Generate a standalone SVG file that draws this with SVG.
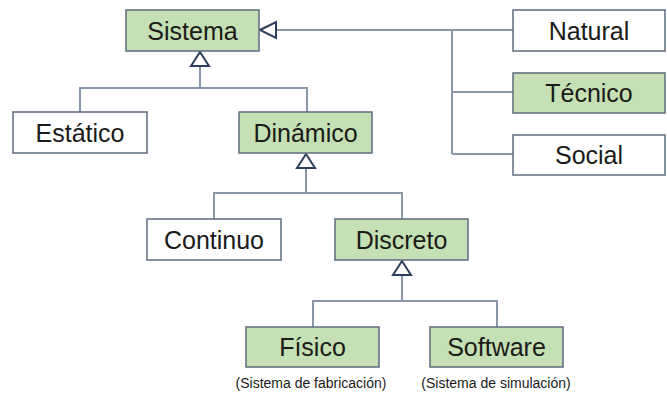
<svg xmlns="http://www.w3.org/2000/svg" width="667" height="397" viewBox="0 0 667 397">
  <style>
    .box rect { stroke: #5d6b7d; stroke-width: 1.5; }
    .green rect { fill: #c5e0b4; }
    .plain rect { fill: #ffffff; }
    .box text { font-family: "Liberation Sans", Arial, sans-serif; font-size: 25px; fill: #1a1a1a; text-anchor: middle; }
    .caption { font-family: "Liberation Sans", Arial, sans-serif; font-size: 14px; fill: #1a1a1a; text-anchor: middle; }
    .links line, .links polyline { stroke: #8a97a8; stroke-width: 2; fill: none; }
    .links polygon { fill: #ffffff; stroke: #2e3d5a; stroke-width: 2; stroke-linejoin: miter; }
  </style>
  <rect width="667" height="397" fill="#ffffff"/>

  <g class="links" id="connectors">
    <!-- Sistema <- Natural / Técnico / Social -->
    <line x1="276" y1="30" x2="513" y2="30"/>
    <line x1="452" y1="30" x2="452" y2="154"/>
    <line x1="452" y1="92" x2="513" y2="92"/>
    <line x1="452" y1="154" x2="513" y2="154"/>
    <polygon points="260,30 276,22 276,38"/>
    <!-- Sistema <- Estático / Dinámico -->
    <line x1="200" y1="66" x2="200" y2="88"/>
    <polyline points="80,112 80,88 307,88 307,112"/>
    <polygon points="200,52 191,66 209,66"/>
    <!-- Dinámico <- Continuo / Discreto -->
    <line x1="306" y1="168" x2="306" y2="193"/>
    <polyline points="214,219 214,193 402,193 402,219"/>
    <polygon points="306,154 297,168 315,168"/>
    <!-- Discreto <- Físico / Software -->
    <line x1="402" y1="275" x2="402" y2="301"/>
    <polyline points="313,327 313,301 497,301 497,327"/>
    <polygon points="402,261 393,275 411,275"/>
  </g>

  <g id="sistema" class="box green">
    <rect x="126" y="10" width="133" height="41"/>
    <text x="192.5" y="39.5">Sistema</text>
  </g>
  <g id="natural" class="box plain">
    <rect x="513" y="10" width="152" height="41"/>
    <text x="589" y="39.5">Natural</text>
  </g>
  <g id="tecnico" class="box green">
    <rect x="513" y="73" width="152" height="40"/>
    <text x="589" y="102">Técnico</text>
  </g>
  <g id="social" class="box plain">
    <rect x="513" y="135" width="152" height="40"/>
    <text x="589" y="164">Social</text>
  </g>
  <g id="estatico" class="box plain">
    <rect x="13" y="112" width="134" height="41"/>
    <text x="80" y="141.5">Estático</text>
  </g>
  <g id="dinamico" class="box green">
    <rect x="239" y="112" width="133" height="41"/>
    <text x="305.5" y="141.5">Dinámico</text>
  </g>
  <g id="continuo" class="box plain">
    <rect x="147" y="219" width="134" height="41"/>
    <text x="214" y="248.5">Continuo</text>
  </g>
  <g id="discreto" class="box green">
    <rect x="335" y="219" width="133" height="41"/>
    <text x="401.5" y="248.5">Discreto</text>
  </g>
  <g id="fisico" class="box green">
    <rect x="246" y="327" width="133" height="40"/>
    <text x="312.5" y="356">Físico</text>
  </g>
  <g id="software" class="box green">
    <rect x="430" y="327" width="133" height="40"/>
    <text x="496.5" y="356">Software</text>
  </g>

  <text class="caption" x="311" y="388">(Sistema de fabricación)</text>
  <text class="caption" x="496" y="388">(Sistema de simulación)</text>
</svg>
